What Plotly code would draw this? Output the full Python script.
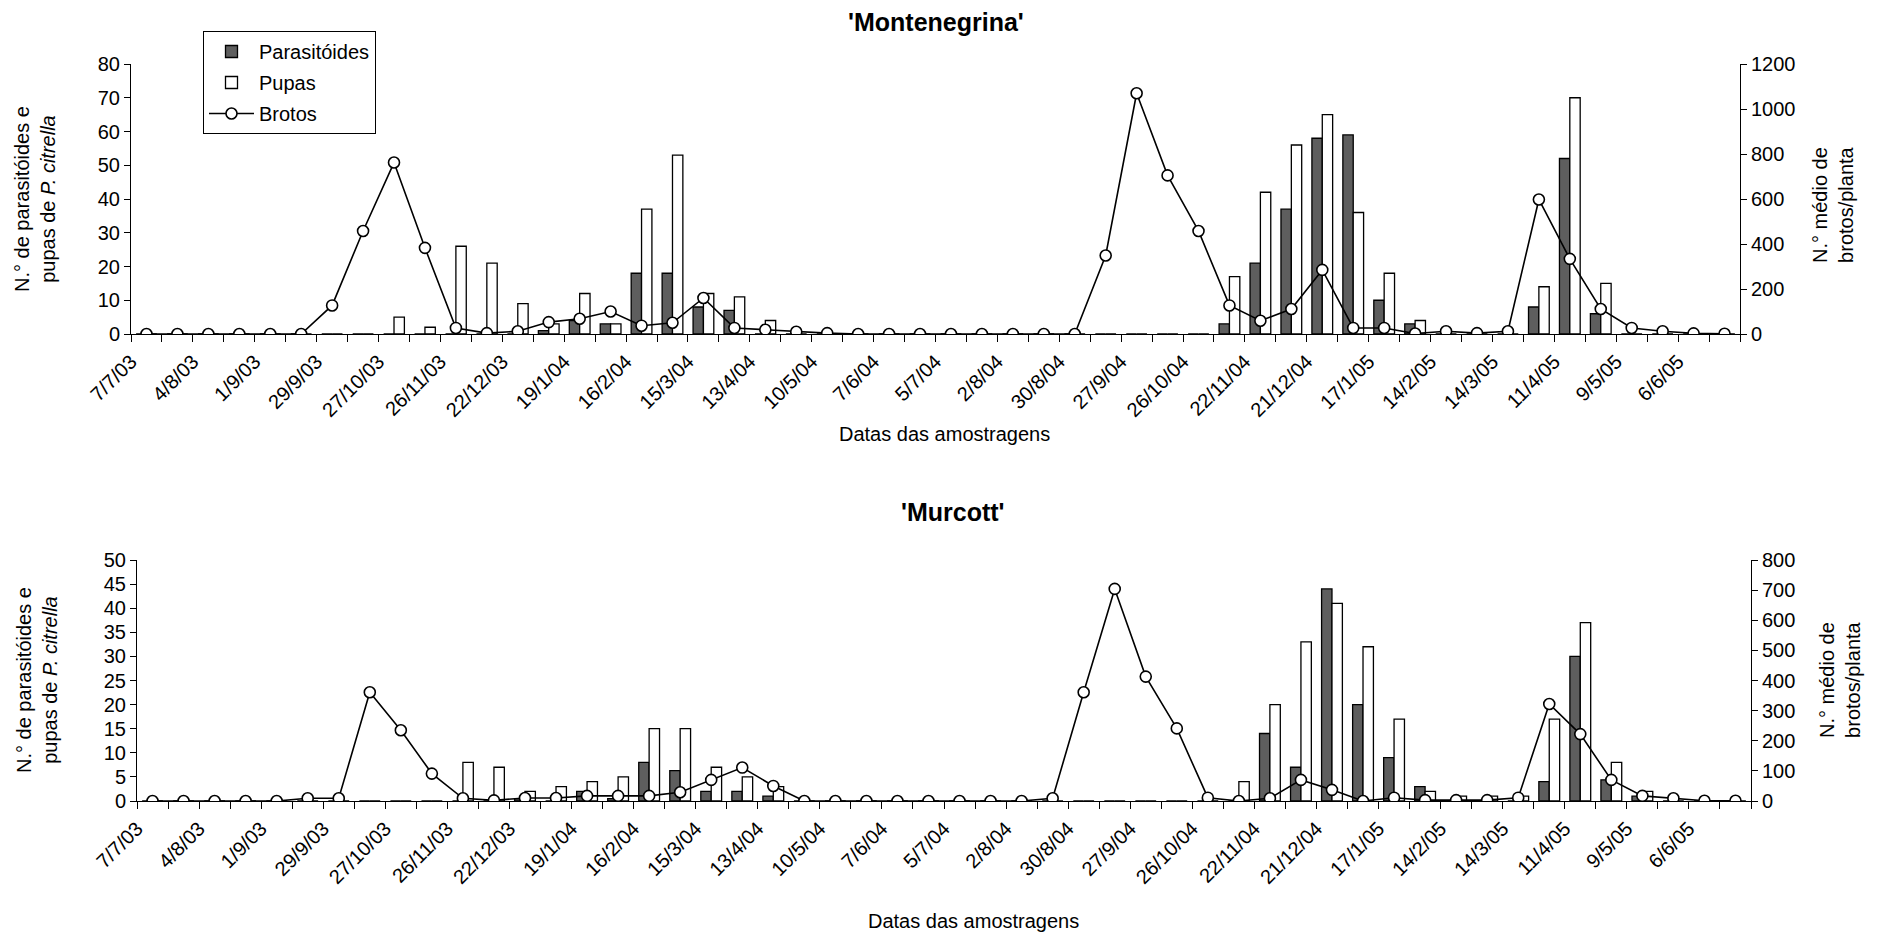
import plotly.graph_objects as go

# ---------------- data ----------------
rotulos = ["7/7/03", "4/8/03", "1/9/03", "29/9/03", "27/10/03", "26/11/03", "22/12/03",
           "19/1/04", "16/2/04", "15/3/04", "13/4/04", "10/5/04", "7/6/04", "5/7/04",
           "2/8/04", "30/8/04", "27/9/04", "26/10/04", "22/11/04", "21/12/04", "17/1/05",
           "14/2/05", "14/3/05", "11/4/05", "9/5/05", "6/6/05"]
amostras = list(range(52))  # sampling occasions (two per labelled date interval)

# 'Montenegrina'
mont_parasitoides = [0, 0, 0, 0, 0, 0, 0, 0, 0, 0,
                     0, 0, 0, 1, 4, 3, 18, 18, 8, 7,
                     0, 0, 0, 0, 0, 0, 0, 0, 0, 0,
                     0, 0, 0, 0, 0, 3, 21, 37, 58, 59,
                     10, 3, 0, 0, 0, 8, 52, 6, 0, 0,
                     0, 0]
mont_pupas = [0, 0, 0, 0, 0, 0, 0, 0, 5, 2,
              26, 21, 9, 3, 12, 3, 37, 53, 12, 11,
              4, 0, 0, 0, 0, 0, 0, 0, 0, 0,
              0, 0, 0, 0, 0, 17, 42, 56, 65, 36,
              18, 4, 0, 0, 0, 14, 70, 15, 0, 0,
              0, 0]
mont_brotos = [0, 0, 0, 0, 0, 0, 127, 458, 762, 383,
               27, 4, 12, 53, 68, 100, 37, 50, 160, 27,
               19, 10, 4, 0, 0, 0, 0, 0, 0, 0,
               0, 349, 1070, 705, 458, 127, 59, 111, 285, 27,
               27, 2, 12, 4, 12, 598, 334, 111, 27, 12,
               3, 1]

# 'Murcott'
murc_parasitoides = [0, 0, 0, 0, 0, 0, 0, 0, 0, 0,
                     0, 0, 0.5, 0, 2, 0.5, 8, 6.3, 2, 2,
                     1, 0, 0, 0, 0, 0, 0, 0, 0, 0,
                     0, 0, 0, 0, 0, 0, 14, 7, 44, 20,
                     9, 3, 0, 0, 0, 4, 30, 4.4, 1, 0,
                     0, 0]
murc_pupas = [0, 0, 0, 0, 0, 0, 0, 0, 0, 0,
              8, 7, 2, 3, 4, 5, 15, 15, 7, 5,
              3, 0, 0, 0, 0, 0, 0, 0, 0, 0,
              0, 0, 0, 0, 0, 4, 20, 33, 41, 32,
              17, 2, 1, 1, 1, 17, 37, 8, 2, 0,
              0, 0]
murc_brotos = [0, 0, 0, 0, 0, 9, 9, 361, 235, 91,
               9, 2, 10, 10, 17, 17, 17, 29, 70, 111,
               50, 0, 0, 0, 0, 0, 0, 0, 0, 9,
               361, 704, 413, 241, 11, 0, 9, 70, 37, 0,
               11, 3, 3, 3, 11, 322, 222, 70, 17, 9,
               1, 1]

# ---------------- style ----------------
FONT = "Liberation Sans, Arial, sans-serif"
DARK = "#5e5e5e"
W, H = 1881, 936

fig = go.Figure()

def add_panel(xa, ya, ya2, par, pup, bro, show):
    fig.add_trace(go.Bar(x=amostras, y=par, name="Parasitóides", xaxis=xa, yaxis=ya,
                         offsetgroup="par", legendgroup="g1", showlegend=show,
                         marker=dict(color=DARK, line=dict(color="black", width=1.3))))
    fig.add_trace(go.Bar(x=amostras, y=pup, name="Pupas", xaxis=xa, yaxis=ya,
                         offsetgroup="pup", legendgroup="g2", showlegend=show,
                         marker=dict(color="white", line=dict(color="black", width=1.3))))
    fig.add_trace(go.Scatter(x=amostras, y=bro, name="Brotos", xaxis=xa, yaxis=ya2,
                             mode="lines+markers", legendgroup="g3", showlegend=show,
                             line=dict(color="black", width=1.6),
                             marker=dict(symbol="circle", size=11, color="white",
                                         line=dict(color="black", width=1.6))))

add_panel("x", "y", "y2", mont_parasitoides, mont_pupas, mont_brotos, True)
add_panel("x2", "y3", "y4", murc_parasitoides, murc_pupas, murc_brotos, False)

n = len(amostras)
label_pos = [2 * k - 0.5 for k in range(len(rotulos))]
bounds = [j - 0.5 for j in range(n + 1)]

def xaxis_def(dom, anchor):
    return dict(domain=dom, anchor=anchor, range=[-0.5, n - 0.5], tickmode="array",
                tickvals=label_pos, ticktext=rotulos, tickangle=-45, automargin=False,
                ticks="outside", ticklen=7, tickwidth=1, tickcolor="black",
                minor=dict(tickmode="array", tickvals=bounds, ticks="outside",
                           ticklen=7, tickwidth=1, tickcolor="black"),
                showline=True, linecolor="black", linewidth=1, showgrid=False,
                zeroline=False, tickfont=dict(size=20, color="black", family=FONT))

def yaxis_def(dom, anchor, rng, dt, side="left", overlay=None):
    d = dict(domain=dom, anchor=anchor, range=rng, dtick=dt, tick0=0, automargin=False,
             ticks="outside", ticklen=6, tickwidth=1, tickcolor="black",
             showline=True, linecolor="black", linewidth=1, showgrid=False,
             zeroline=False, side=side,
             tickfont=dict(size=20, color="black", family=FONT))
    if overlay:
        d["overlaying"] = overlay
    return d

top_x = [131 / W, 1740 / W]
bot_x = [137 / W, 1751 / W]
top_y = [1 - 334 / H, 1 - 64 / H]
bot_y = [1 - 801 / H, 1 - 560 / H]

fig.update_layout(
    width=W, height=H, margin=dict(l=0, r=0, t=0, b=0, autoexpand=False),
    paper_bgcolor="white", plot_bgcolor="white",
    font=dict(family=FONT, color="black", size=19),
    barmode="group", bargap=0.33, bargroupgap=0.0,
    xaxis=xaxis_def(top_x, "y"),
    yaxis=yaxis_def(top_y, "x", [0, 80], 10),
    yaxis2=yaxis_def(top_y, "x", [0, 1200], 200, side="right", overlay="y"),
    xaxis2=xaxis_def(bot_x, "y3"),
    yaxis3=yaxis_def(bot_y, "x2", [0, 50], 5),
    yaxis4=yaxis_def(bot_y, "x2", [0, 800], 100, side="right", overlay="y3"),
    legend=dict(x=203 / W, y=1 - 31 / H, xanchor="left", yanchor="top",
                bordercolor="black", borderwidth=1, bgcolor="white",
                font=dict(size=20, family=FONT), tracegroupgap=2,
                itemwidth=45),
    showlegend=True,
)

ann = []
def text(x, y, s, size=20, angle=0):
    ann.append(dict(x=x / W, y=1 - y / H, xref="paper", yref="paper", text=s,
                    showarrow=False, textangle=angle, xanchor="center", yanchor="middle",
                    font=dict(size=size, family=FONT, color="black")))

text(936, 22, "<b>'Montenegrina'</b>", size=25)
text(953, 512, "<b>'Murcott'</b>", size=25)
text(945, 434, "Datas das amostragens", size=20)
text(974, 921, "Datas das amostragens", size=20)
text(35, 199, "N.° de parasitóides e<br>pupas de <i>P. citrella</i>", size=20, angle=-90)
text(37, 680, "N.° de parasitóides e<br>pupas de <i>P. citrella</i>", size=20, angle=-90)
text(1833, 205, "N.° médio de<br>brotos/planta", size=20, angle=-90)
text(1840, 680, "N.° médio de<br>brotos/planta", size=20, angle=-90)
fig.update_layout(annotations=ann)

fig.write_html("out.html")
